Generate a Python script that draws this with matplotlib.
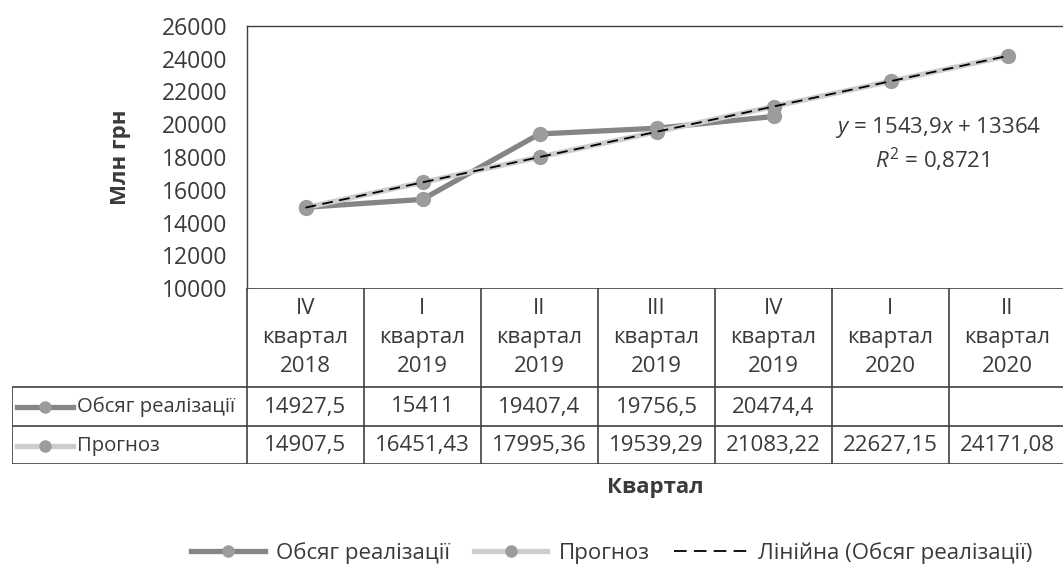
import matplotlib
matplotlib.use('Agg')
import matplotlib.pyplot as plt
from matplotlib.lines import Line2D

plt.rcParams['font.family'] = ['Open Sans', 'DejaVu Sans']
plt.rcParams['mathtext.fontset'] = 'custom'
plt.rcParams['mathtext.rm'] = 'Open Sans'
plt.rcParams['mathtext.it'] = 'Open Sans:italic'

# data
quarters = ['IV\nквартал\n2018', 'I\nквартал\n2019', 'II\nквартал\n2019', 'III\nквартал\n2019',
            'IV\nквартал\n2019', 'I\nквартал\n2020', 'II\nквартал\n2020']
sales = [14927.5, 15411, 19407.4, 19756.5, 20474.4]
forecast = [14907.5, 16451.43, 17995.36, 19539.29, 21083.22, 22627.15, 24171.08]
sales_txt = ['14927,5', '15411', '19407,4', '19756,5', '20474,4', '', '']
forecast_txt = ['14907,5', '16451,43', '17995,36', '19539,29', '21083,22', '22627,15', '24171,08']
slope, intercept = 1543.9, 13364
yticks = [10000, 12000, 14000, 16000, 18000, 20000, 22000, 24000, 26000]

W, H = 1063, 567
txt = '#3a3a3a'
c_sales = '#858587'
c_fc = '#cdcdcd'
c_mark = '#9c9c9e'
edge = '#404040'
fs = 16

fig = plt.figure(figsize=(W / 100, H / 100), dpi=100)

def px(l, t, r, b):
    return [l / W, 1 - b / H, (r - l) / W, (b - t) / H]

# main plot area
ax = fig.add_axes(px(247, 26, 1066, 288))
n = len(quarters)
xs = list(range(n))
ax.plot(xs[:len(sales)], sales, color=c_sales, lw=3.8, marker='o', ms=10,
        mfc=c_mark, mec=c_mark, zorder=3)
ax.plot(xs, forecast, color=c_fc, lw=3.8, marker='o', ms=10,
        mfc=c_mark, mec=c_mark, zorder=4)
trend = [slope * (i + 1) + intercept for i in xs]
ax.plot(xs, trend, color='black', lw=1.3, ls=(0, (6, 3.5)), zorder=5)
ax.set_xlim(-0.5, n - 0.5)
ax.set_ylim(10000, 26000)
ax.set_yticks(yticks)
ax.set_yticklabels([str(v) for v in yticks], fontsize=16.5, color=txt)
ax.tick_params(axis='y', length=0, pad=14)
ax.set_xticks([])
for s in ['left', 'top', 'right']:
    ax.spines[s].set_color(edge)
    ax.spines[s].set_linewidth(1)
ax.spines['bottom'].set_visible(False)
ax.set_ylabel('Млн грн', fontsize=fs, fontweight='bold', color=txt, labelpad=22)
ax.text(5.41, 19800, r'$y$ = 1543,9$x$ + 13364', fontsize=fs, color=txt, ha='center', va='center')
ax.text(5.36, 17850, r'$R^2$ = 0,8721', fontsize=fs, color=txt, ha='center', va='center')

# data table
left_w = 235 / 117
tb = fig.add_axes(px(12, 288, 1066, 464))
tb.set_xlim(-0.5 - left_w, n - 0.5)
tb.set_ylim(176, 0)
tb.axis('off')
lc = dict(color=edge, lw=1.2, solid_capstyle='butt')
x0, x1 = -0.5 - left_w, n - 0.5
for yy, xa in [(0, -0.5), (99, x0), (138, x0), (176, x0)]:
    tb.plot([xa, x1], [yy, yy], **lc)
tb.plot([x0, x0], [99, 176], **lc)
for i in range(n + 1):
    tb.plot([i - 0.5, i - 0.5], [0, 176], **lc)
for i, q in enumerate(quarters):
    tb.text(i, 50, q, ha='center', va='center', fontsize=fs, color=txt, linespacing=1.5)
    tb.text(i, 119, sales_txt[i], ha='center', va='center', fontsize=fs, color=txt)
    tb.text(i, 157.5, forecast_txt[i], ha='center', va='center', fontsize=fs, color=txt)
# legend keys in table
k0 = x0 + 5 / 117
k1 = x0 + 61 / 117
for yy, col, lab in [(119, c_sales, 'Обсяг реалізації'), (157.5, c_fc, 'Прогноз')]:
    tb.plot([k0, k1], [yy, yy], color=col, lw=3.8)
    tb.plot([(k0 + k1) / 2], [yy], 'o', ms=8, color=c_mark)
    tb.text(k1 + 4 / 117, yy, lab, ha='left', va='center', fontsize=14.6, color=txt)

fig.text(655 / W, 1 - 487 / H, 'Квартал', ha='center', va='center', fontsize=fs,
         fontweight='bold', color=txt)

handles = [
    Line2D([], [], color=c_sales, lw=3.8, marker='o', ms=8, mfc=c_mark, mec=c_mark),
    Line2D([], [], color=c_fc, lw=3.8, marker='o', ms=8, mfc=c_mark, mec=c_mark),
    Line2D([], [], color='black', lw=1.3, ls=(0, (7, 4))),
]
labels = ['Обсяг реалізації', 'Прогноз', 'Лінійна (Обсяг реалізації)']
leg = fig.legend(handles, labels, loc='center', bbox_to_anchor=(612 / W, 1 - 553 / H),
                 ncol=3, frameon=False, fontsize=fs, handlelength=3.3, columnspacing=1.1,
                 handletextpad=0.5, labelcolor=txt)

fig.savefig('out.png', dpi=100)
